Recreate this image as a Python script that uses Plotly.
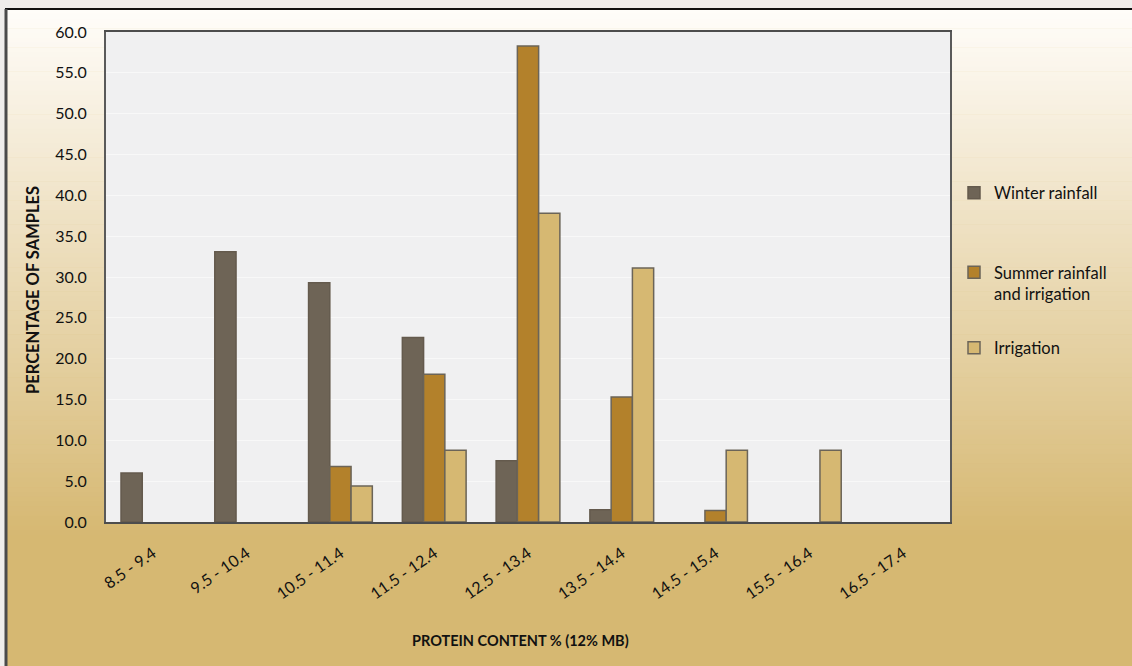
import plotly.graph_objects as go

# Protein content bins and percentage of samples per growing region
categories = ["8.5 - 9.4", "9.5 - 10.4", "10.5 - 11.4", "11.5 - 12.4", "12.5 - 13.4",
              "13.5 - 14.4", "14.5 - 15.4", "15.5 - 16.4", "16.5 - 17.4"]
winter_rainfall = [6.0, 33.1, 29.3, 22.6, 7.5, 1.5, 0.0, 0.0, 0.0]
summer_rainfall_irrigation = [0.0, 0.0, 6.8, 18.1, 58.3, 15.3, 1.4, 0.0, 0.0]
irrigation = [0.0, 0.0, 4.4, 8.8, 37.8, 31.1, 8.8, 8.8, 0.0]

W, H = 1132, 666
L, R, T, B = 106, 950, 32, 522          # plot area in pixels
FONT = "Lato"


def px_x(px):
    return (px - L) / (R - L)


def px_y(py):
    return (B - py) / (B - T)


fig = go.Figure()

series = [
    ("Winter rainfall", winter_rainfall, "#6e6456", "#645a4d", "legend"),
    ("Summer rainfall<br>and irrigation", summer_rainfall_irrigation, "#b3812b", "#6b6458", "legend2"),
    ("Irrigation", irrigation, "#d6b872", "#6b6458", "legend3"),
]
for name, vals, color, edge, leg in series:
    # empty bins are left without a bar
    fig.add_trace(go.Bar(
        x=categories, y=[v if v > 0 else None for v in vals], name=name,
        marker=dict(color=color, line=dict(color=edge, width=1.5)),
        legend=leg, showlegend=True,
    ))

# Background: vertical gradient from near-white to tan
shapes = []
top_col = (255, 253, 250)
bot_col = (214, 184, 114)
g0, g1 = 9, 535
n = 110
for i in range(n):
    y0 = g0 + (g1 - g0) * i / n
    y1 = g0 + (g1 - g0) * (i + 1) / n + 0.6
    f = (i + 0.5) / n
    c = tuple(round(a + (b - a) * f) for a, b in zip(top_col, bot_col))
    shapes.append(dict(type="rect", xref="paper", yref="paper",
                       x0=px_x(6), x1=px_x(W + 5), y0=px_y(y1), y1=px_y(y0),
                       fillcolor="rgb(%d,%d,%d)" % c, line=dict(width=0), layer="below"))
shapes.append(dict(type="rect", xref="paper", yref="paper",
                   x0=px_x(6), x1=px_x(W + 5), y0=px_y(H + 5), y1=px_y(g1),
                   fillcolor="#d6b872", line=dict(width=0), layer="below"))
# Strip outside the frame
shapes.append(dict(type="rect", xref="paper", yref="paper",
                   x0=px_x(-5), x1=px_x(W + 5), y0=px_y(9), y1=px_y(-5),
                   fillcolor="#efedeb", line=dict(width=0), layer="below"))
shapes.append(dict(type="rect", xref="paper", yref="paper",
                   x0=px_x(-5), x1=px_x(5), y0=px_y(H + 5), y1=px_y(9),
                   fillcolor="#efedeb", line=dict(width=0), layer="below"))
# Plot area fill
shapes.append(dict(type="rect", xref="paper", yref="paper",
                   x0=0, x1=1, y0=0, y1=1,
                   fillcolor="#f0f0f1", line=dict(width=0), layer="below"))
# Outer frame lines
shapes.append(dict(type="line", xref="paper", yref="paper",
                   x0=px_x(5), x1=px_x(W + 5), y0=px_y(9), y1=px_y(9),
                   line=dict(color="#111111", width=2)))
shapes.append(dict(type="line", xref="paper", yref="paper",
                   x0=px_x(6), x1=px_x(6), y0=px_y(9), y1=px_y(H + 5),
                   line=dict(color="#4a4a4a", width=3)))

annotations = [
    dict(text="<b>PROTEIN CONTENT % (12% MB)</b>", xref="paper", yref="paper",
         x=px_x(520), y=px_y(640), xanchor="center", yanchor="middle", showarrow=False,
         font=dict(family=FONT, size=14.5, color="#111111")),
    dict(text="<b>PERCENTAGE OF SAMPLES</b>", xref="paper", yref="paper",
         x=px_x(33), y=px_y(290), xanchor="center", yanchor="middle", showarrow=False,
         textangle=-90, font=dict(family=FONT, size=16.5, color="#111111")),
]

legend_common = dict(
    xref="paper", yref="paper", x=px_x(954), xanchor="left",
    bgcolor="rgba(0,0,0,0)", font=dict(family=FONT, size=16.5, color="#111111"),
    valign="top", itemwidth=30,
)

fig.update_layout(
    width=W, height=H,
    margin=dict(l=L, r=W - R, t=T, b=H - B, pad=0),
    paper_bgcolor="#d6b872",
    plot_bgcolor="#f0f0f1",
    showlegend=True,
    barmode="group", bargap=0.32, bargroupgap=0,
    font=dict(family=FONT, size=16, color="#111111"),
    shapes=shapes,
    annotations=annotations,
    legend=dict(**legend_common, y=px_y(193), yanchor="middle"),
    legend2=dict(**legend_common, y=px_y(255), yanchor="top"),
    legend3=dict(**legend_common, y=px_y(348), yanchor="middle"),
    xaxis=dict(
        showline=True, mirror=True, linecolor="#4d4d4d", linewidth=2,
        tickangle=-35, ticklabelstandoff=14, ticks="",
        tickfont=dict(family=FONT, size=16, color="#111111"),
        showgrid=False,
    ),
    yaxis=dict(
        range=[0, 60], dtick=5, tickformat=".1f",
        showline=True, mirror=True, linecolor="#5a5a5a", linewidth=2,
        gridcolor="#f8f8f8", gridwidth=1, zeroline=False,
        ticks="", ticklabelstandoff=14,
        tickfont=dict(family=FONT, size=16, color="#111111"),
    ),
)

fig.write_html("out.html")
